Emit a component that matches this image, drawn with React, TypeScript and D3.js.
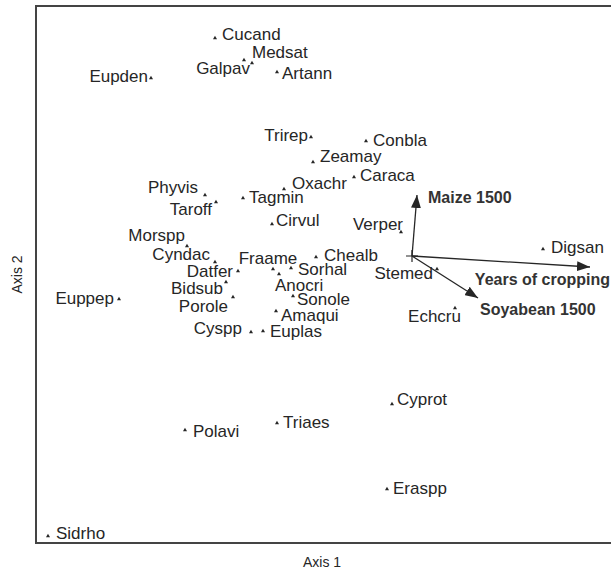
import { useEffect, useRef } from "react";
import * as d3 from "d3";

// species scores (axis 1, axis 2)
const species = [
  "Cucand", "Medsat", "Galpav", "Eupden", "Artann", "Trirep", "Conbla", "Zeamay",
  "Caraca", "Oxachr", "Phyvis", "Tagmin", "Taroff", "Cirvul", "Verper", "Morspp",
  "Cyndac", "Datfer", "Fraame", "Anocri", "Sorhal", "Chealb", "Bidsub", "Porole",
  "Sonole", "Amaqui", "Euppep", "Cyspp", "Euplas", "Stemed", "Digsan", "Echcru",
  "Cyprot", "Polavi", "Triaes", "Eraspp", "Sidrho",
];
const axis1 = [
  -1.97, -1.68, -1.6, -2.61, -1.35, -1.01, -0.46, -0.99,
  -0.58, -1.28, -2.07, -1.69, -1.96, -1.4, -0.11, -2.25,
  -1.97, -1.74, -1.39, -1.33, -1.21, -0.96, -1.86, -1.79,
  -1.19, -1.36, -2.93, -1.61, -1.49, 0.25, 1.31, 0.43,
  -0.2, -2.27, -1.35, -0.25, -3.64,
];
const axis2 = [
  2.18, 1.96, 1.93, 1.78, 1.84, 1.19, 1.15, 0.94,
  0.79, 0.67, 0.61, 0.58, 0.54, 0.32, 0.24, 0.1,
  -0.06, -0.15, -0.13, -0.18, -0.12, -0.01, -0.26, -0.41,
  -0.4, -0.55, -0.43, -0.76, -0.75, -0.13, 0.07, -0.52,
  -1.48, -1.74, -1.67, -2.33, -2.8,
];

// label placement around each point: [dx, dy, anchor]
const labelPlace: [number, number, string][] = [
  [7, 2, "start"], [8, -2, "start"], [-2, 11, "end"], [-3, 4, "end"], [5, 7, "start"],
  [-3, 4, "end"], [7, 5, "start"], [7, 0, "start"], [6, 4, "start"], [8, 0, "start"],
  [-7, -2, "end"], [6, 5, "start"], [-4, 13, "end"], [4, 2, "start"], [2, -2, "end"],
  [-2, -5, "end"], [-5, -2, "end"], [-5, 6, "end"], [-5, -5, "middle"], [-4, 17, "start"],
  [7, 7, "start"], [8, 4, "start"], [-3, 12, "end"], [-5, 15, "end"], [4, 9, "start"],
  [5, 10, "start"], [-5, 5, "end"], [-9, 2, "end"], [7, 6, "start"], [-4, 10, "end"],
  [8, 4, "start"], [6, 14, "end"], [5, 1, "start"], [8, 7, "start"], [6, 5, "start"],
  [6, 5, "start"], [8, 3, "start"],
];

// environmental vectors
const vectors = ["Maize 1500", "Years of cropping", "Soyabean 1500"];
const vecAxis1 = [0.05, 1.78, 0.66];
const vecAxis2 = [0.61, -0.11, -0.42];
const vecLabelPlace: [number, number, string][] = [
  [11, 8, "start"], [20, 18, "end"], [2, 17, "start"],
];

const W = 611;
const H = 573;
const FRAME = { left: 36, top: 6, right: 616, bottom: 543 };
const INK = "#262626";

export default function App() {
  const svgRef = useRef<SVGSVGElement>(null);

  useEffect(() => {
    if (!svgRef.current) return;
    const svg = d3.select(svgRef.current);
    svg.selectAll("*").remove();

    // 100 px per unit on both axes
    const x = d3.scaleLinear().domain([-3.76, 2.04]).range([FRAME.left, FRAME.right]);
    const y = d3.scaleLinear().domain([2.5, -2.87]).range([FRAME.top, FRAME.bottom]);

    svg
      .append("rect")
      .attr("x", FRAME.left)
      .attr("y", FRAME.top)
      .attr("width", FRAME.right - FRAME.left)
      .attr("height", FRAME.bottom - FRAME.top)
      .attr("fill", "none")
      .attr("stroke", "#444")
      .attr("stroke-width", 2);

    const defs = svg.append("defs");
    defs
      .append("marker")
      .attr("id", "head")
      .attr("viewBox", "0 0 13 10")
      .attr("refX", 13)
      .attr("refY", 5)
      .attr("markerWidth", 13)
      .attr("markerHeight", 10)
      .attr("markerUnits", "userSpaceOnUse")
      .attr("orient", "auto")
      .append("path")
      .attr("d", "M0,0 L13,5 L0,10 Z")
      .attr("fill", INK);

    const ox = x(0);
    const oy = y(0);

    // origin cross
    svg
      .append("path")
      .attr("d", `M${ox - 6},${oy}H${ox + 6}M${ox},${oy - 6}V${oy + 6}`)
      .attr("stroke", INK)
      .attr("stroke-width", 1.2);

    const sym = d3.symbol().type(d3.symbolTriangle).size(7);
    const g = svg.append("g");
    species.forEach((name, i) => {
      const px = x(axis1[i]);
      const py = y(axis2[i]);
      g.append("path")
        .attr("d", sym()!)
        .attr("transform", `translate(${px},${py})`)
        .attr("fill", INK);
      const [dx, dy, anchor] = labelPlace[i];
      g.append("text")
        .attr("x", px + dx)
        .attr("y", py + dy)
        .attr("text-anchor", anchor)
        .attr("font-family", "'Liberation Sans', Arial, sans-serif")
        .attr("font-size", 17)
        .attr("fill", INK)
        .text(name);
    });

    vectors.forEach((name, i) => {
      const tx = x(vecAxis1[i]);
      const ty = y(vecAxis2[i]);
      svg
        .append("line")
        .attr("x1", ox)
        .attr("y1", oy)
        .attr("x2", tx)
        .attr("y2", ty)
        .attr("stroke", INK)
        .attr("stroke-width", 1.3)
        .attr("marker-end", "url(#head)");
      const [dx, dy, anchor] = vecLabelPlace[i];
      svg
        .append("text")
        .attr("x", tx + dx)
        .attr("y", ty + dy)
        .attr("text-anchor", anchor)
        .attr("font-family", "'Liberation Sans', Arial, sans-serif")
        .attr("font-size", 16)
        .attr("font-weight", "bold")
        .attr("fill", "#333")
        .text(name);
    });

    svg
      .append("text")
      .attr("x", 322)
      .attr("y", 567)
      .attr("text-anchor", "middle")
      .attr("font-family", "'Liberation Sans', Arial, sans-serif")
      .attr("font-size", 14)
      .attr("fill", INK)
      .text("Axis 1");

    svg
      .append("text")
      .attr("transform", `translate(22,${(FRAME.top + FRAME.bottom) / 2}) rotate(-90)`)
      .attr("text-anchor", "middle")
      .attr("font-family", "'Liberation Sans', Arial, sans-serif")
      .attr("font-size", 14)
      .attr("fill", INK)
      .text("Axis 2");
  }, []);

  return (
    <svg
      ref={svgRef}
      width={W}
      height={H}
      style={{ position: "absolute", left: 0, top: 0, background: "#fff" }}
    />
  );
}
